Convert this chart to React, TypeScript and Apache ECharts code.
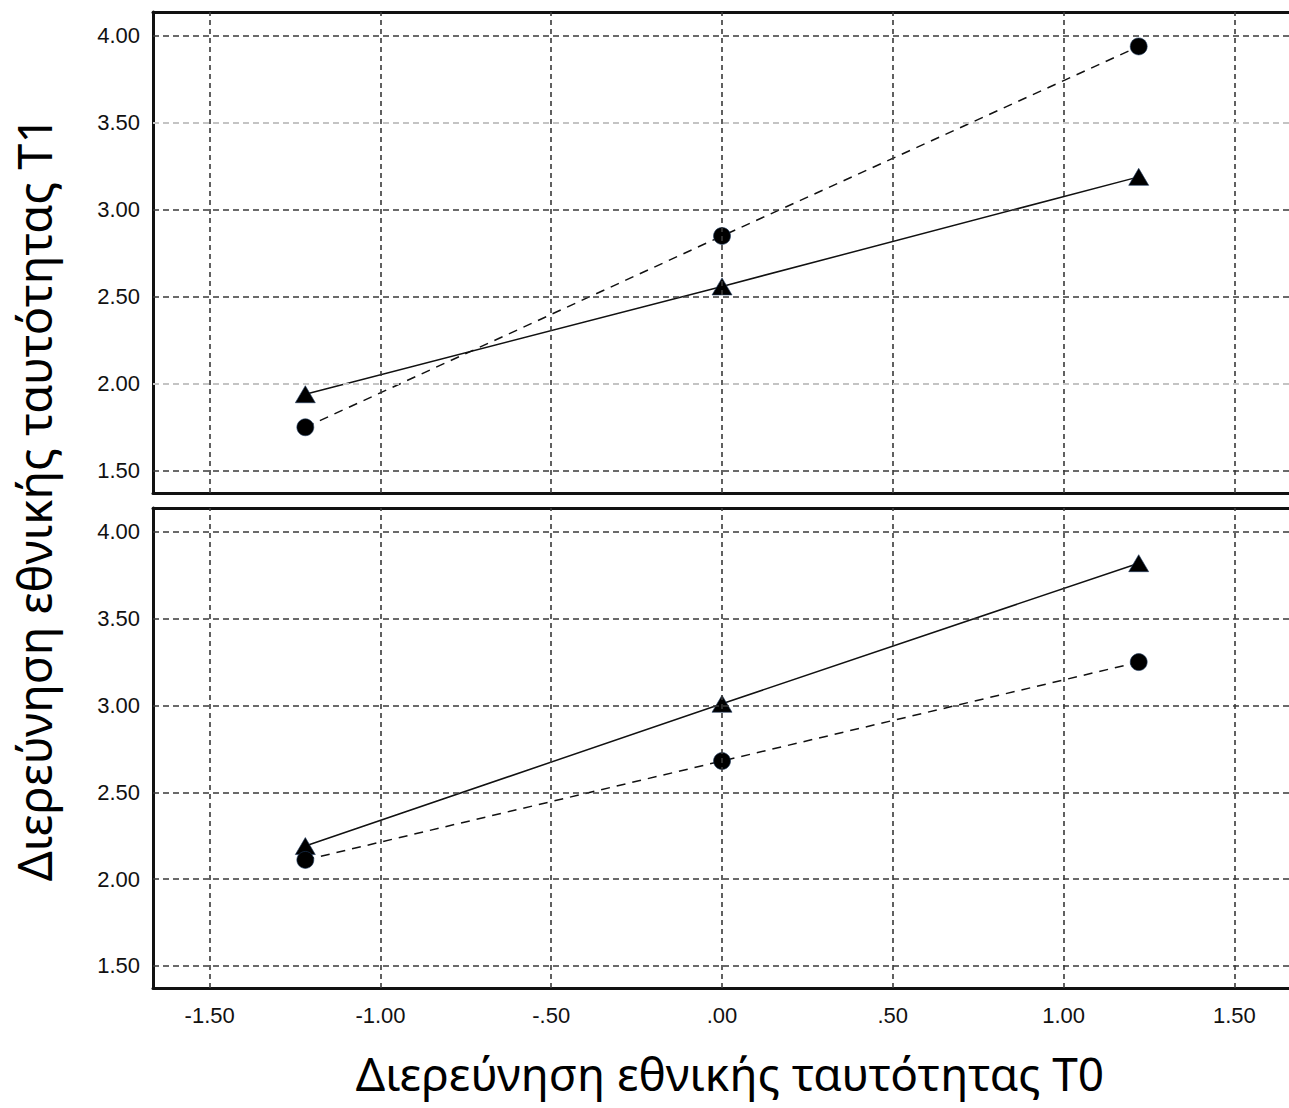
import React, { useEffect, useRef } from "react";
import * as echarts from "echarts";

const xValues = [-1.22, 0, 1.22];
const topCircle = [1.75, 2.85, 3.94];
const topTriangle = [1.94, 2.56, 3.19];
const bottomTriangle = [2.19, 3.01, 3.82];
const bottomCircle = [2.11, 2.68, 3.25];

const xTicks = [-1.5, -1.0, -0.5, 0, 0.5, 1.0, 1.5];
const xTickLabels = ["-1.50", "-1.00", "-.50", ".00", ".50", "1.00", "1.50"];
const yTicks = [1.5, 2.0, 2.5, 3.0, 3.5, 4.0];
const yTickLabels = ["1.50", "2.00", "2.50", "3.00", "3.50", "4.00"];

const yTitle = "Διερεύνηση εθνικής ταυτότητας T1";
const xTitle = "Διερεύνηση εθνικής ταυτότητας T0";

const DARK = "#3a3a3a";
const LIGHT = "#c4c4c4";
const BORDER = { show: true, onZero: false, lineStyle: { color: "#111", width: 3 } };

function pairs(xs: number[], ys: number[]) {
  return xs.map((x, i) => [x, ys[i]]);
}

function fmtX(v: number) {
  const i = xTicks.findIndex((t) => Math.abs(t - v) < 1e-6);
  return i >= 0 ? xTickLabels[i] : "";
}
function fmtY(v: number) {
  const i = yTicks.findIndex((t) => Math.abs(t - v) < 1e-6);
  return i >= 0 ? yTickLabels[i] : "";
}

export default function App() {
  const ref = useRef<HTMLDivElement>(null);
  useEffect(() => {
    document.body.style.margin = "0";
    if (!ref.current) return;
    const chart = echarts.init(ref.current, null, { renderer: "svg" });

    const xAxisBase = (gridIndex: number, showLabels: boolean, position: string) => ({
      type: "value",
      gridIndex,
      position,
      min: -1.666,
      max: 1.66,
      axisLine: BORDER,
      axisTick: { show: false, customValues: xTicks },
      axisLabel: {
        show: showLabels,
        customValues: xTicks,
        formatter: fmtX,
        fontFamily: "Liberation Sans",
        fontSize: 22,
        color: "#111",
        margin: 16,
      },
      splitLine: { show: false },
    });

    const yAxisBase = (gridIndex: number) => ({
      type: "value",
      gridIndex,
      min: 1.372,
      max: 4.138,
      axisLine: BORDER,
      axisTick: { show: false, customValues: yTicks },
      axisLabel: {
        customValues: yTicks,
        formatter: fmtY,
        fontFamily: "Liberation Sans",
        fontSize: 22,
        color: "#111",
        margin: 13,
      },
      splitLine: { show: false },
    });

    const gridLines = (xi: number, yi: number, lightY: number[]) => ({
      type: "line",
      xAxisIndex: xi,
      yAxisIndex: yi,
      data: [],
      silent: true,
      z: 1,
      markLine: {
        silent: true,
        symbol: "none",
        label: { show: false },
        animation: false,
        data: [
          ...xTicks.map((v) => ({
            xAxis: v,
            lineStyle: { color: DARK, type: [5, 4], width: 1.6 },
          })),
          ...yTicks.map((v) => ({
            yAxis: v,
            lineStyle: {
              color: lightY.includes(v) ? LIGHT : DARK,
              type: [6, 4],
              width: lightY.includes(v) ? 2.2 : 1.6,
            },
          })),
        ],
      },
    });

    const circleSeries = (xi: number, ys: number[]) => ({
      type: "line",
      xAxisIndex: xi,
      yAxisIndex: xi,
      data: pairs(xValues, ys),
      symbol: "circle",
      symbolSize: 17,
      itemStyle: { color: "#000", borderColor: "#1f3a5f", borderWidth: 0.6 },
      lineStyle: { color: "#111", width: 1.5, type: [9, 7] },
      z: 3,
    });
    const triangleSeries = (xi: number, ys: number[]) => ({
      type: "line",
      xAxisIndex: xi,
      yAxisIndex: xi,
      data: pairs(xValues, ys),
      symbol: "triangle",
      symbolSize: [20, 17],
      itemStyle: { color: "#000", borderColor: "#1f3a5f", borderWidth: 0.6 },
      lineStyle: { color: "#111", width: 1.5, type: "solid" },
      z: 3,
    });

    chart.setOption({
      animation: false,
      grid: [
        { left: 153, top: 12, right: -6, height: 481 },
        { left: 153, top: 508, right: -6, height: 480 },
      ],
      xAxis: [
        xAxisBase(0, false, "bottom"),
        xAxisBase(1, true, "bottom"),
        xAxisBase(0, false, "top"),
        xAxisBase(1, false, "top"),
      ],
      yAxis: [yAxisBase(0), yAxisBase(1)],
      series: [
        gridLines(0, 0, [2.0, 3.5]),
        gridLines(1, 1, []),
        triangleSeries(0, topTriangle),
        circleSeries(0, topCircle),
        triangleSeries(1, bottomTriangle),
        circleSeries(1, bottomCircle),
      ],
      graphic: [
        {
          type: "text",
          x: 34,
          y: 499,
          rotation: Math.PI / 2,
          style: {
            text: yTitle,
            font: '47px "Noto Sans"',
            fill: "#000",
            align: "center",
            verticalAlign: "middle",
          },
        },
        {
          type: "text",
          x: 730,
          y: 1073,
          style: {
            text: xTitle,
            font: '46px "Noto Sans"',
            fill: "#000",
            align: "center",
            verticalAlign: "middle",
          },
        },
      ],
    });
    return () => chart.dispose();
  }, []);
  return <div ref={ref} style={{ width: 1289, height: 1108 }} />;
}
